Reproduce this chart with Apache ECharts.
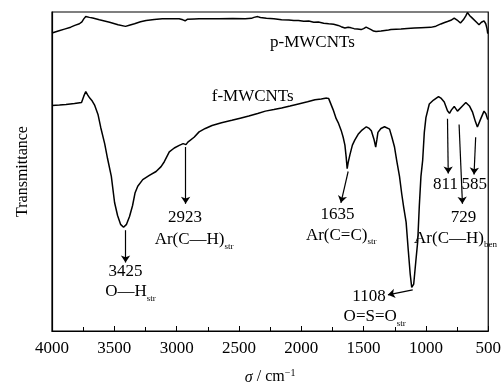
<!DOCTYPE html>
<html>
<head>
<meta charset="utf-8">
<script src="https://cdn.jsdelivr.net/npm/echarts@6/dist/echarts.min.js"></script>
<style>html,body{margin:0;padding:0;background:#fff;overflow:hidden}#c{width:100vw;height:100vh}</style>
</head>
<body>
<div id="c"></div>
<script>
// x tick labels (wavenumber, cm^-1)
var xTicks = [4000, 3500, 3000, 2500, 2000, 1500, 1000, 500];

// p-MWCNTs spectrum: wavenumber / transmittance (arb. units)
var pWn = [4000,3950,3900,3850,3817,3780,3760,3745,3729,3700,3673,3620,3538,3470,3410,3380,3338,3290,3245,3180,3115,3050,2980,2950,2932,2915,2900,2860,2820,2740,2661,2550,2450,2400,2380,2368,2350,2328,2280,2220,2158,2100,2060,2023,1980,1940,1900,1863,1820,1780,1740,1704,1680,1650,1635,1624,1600,1576,1550,1520,1500,1480,1465,1440,1420,1400,1385,1360,1330,1300,1281,1240,1200,1150,1092,1040,962,920,880,850,827,800,773,750,723,700,680,667,650,630,614,594,574,555,534,520,510,504];
var pT = [304.5,306.5,308.5,310.5,312.3,314,316,319,321.5,320.5,319.8,318,315.5,313,311.3,312.5,314,316,317.3,318.3,319,319.2,319,318,317,318.5,318.3,318.8,319,319.2,319,319.3,319,319.5,320.5,322,321.3,320.3,319.6,319,318,317.8,317.3,317.3,316.5,316.8,315.6,315.7,314.6,313.9,313.5,312.3,311,309.7,310.5,310.3,309.8,309,308.6,308,309,310.5,310.3,308,306.5,306,304.7,306.5,307.2,307.6,308,308.4,308.6,309.2,309.7,310,310.3,311.5,313.8,315.3,316.3,317.5,319.7,317.8,314.7,318,322,325.5,322.5,320,318,315.5,313,315.5,317,314,309,304];

// f-MWCNTs spectrum
var fWn = [4000,3940,3888,3820,3763,3745,3729,3713,3697,3677,3657,3631,3609,3577,3554,3524,3498,3474,3450,3426,3402,3378,3354,3334,3312,3272,3219,3165,3125,3099,3059,3019,2979,2948,2935,2925,2910,2900,2860,2820,2770,2716,2640,2557,2490,2421,2350,2288,2220,2158,2090,2023,1950,1890,1840,1797,1780,1765,1744,1720,1704,1680,1664,1650,1640,1632,1624,1610,1590,1571,1544,1518,1478,1455,1438,1417,1403,1393,1385,1361,1332,1292,1273,1252,1233,1212,1194,1178,1159,1142,1126,1114,1106,1098,1082,1066,1053,1040,1026,1013,1000,973,939,899,880,853,827,811,795,773,747,731,707,680,651,627,603,587,563,534,519,504];
var fT = [230.5,231,231.5,232.5,233.5,240,244.7,241,238,235,230.5,221.3,208,191.3,176,158,131.3,118,109,106,109,117,128,141,148,154.7,159,163,168,173,183,187,189.7,191.5,192,190.5,193,194.7,198,203.5,207,210,212.8,215.3,217.5,219.7,222.3,224.7,226.3,228,230,232,234.2,236.3,237.2,238,237.5,235.5,226,217,213,205,198,190,178,166,172,180,190,195,201,204.7,208.7,207,204.7,196,188,196,203,207,208.7,206.3,198,188,173,158,140,126,111.3,83,58,44.5,43.5,48,70,91.3,128,158,174.7,203,218,232,236,239.5,238,234,225,222.5,226,229.5,224.7,224,230,233.5,230,224,214,208.5,216,224.7,222,216];

// annotations
var seriesNames = ['p-MWCNTs', 'f-MWCNTs'];
var peakLabels = ['3425', '2923', '1635', '1108', '811', '729', '585'];

var FONT = '"Liberation Serif", "Times New Roman", serif';

function pairs(a, b) { return a.map(function (v, i) { return [v, b[i]]; }); }

var rich = {
  a: { fontSize: 17, lineHeight: 17, verticalAlign: 'top', fontFamily: FONT, color: '#000' },
  b: { fontSize: 9, lineHeight: 9, verticalAlign: 'top', padding: [11, 0, 0, 0], fontFamily: FONT, color: '#000' }
};

function txt(wn, v, formatter) {
  return {
    coord: [wn, v], symbol: 'circle', symbolSize: 0,
    label: { show: true, position: 'inside', formatter: formatter, fontFamily: FONT, fontSize: 17, color: '#000', rich: rich }
  };
}
function arrow(w1, v1, w2, v2) { return [{ coord: [w1, v1] }, { coord: [w2, v2] }]; }

var option = {
  animation: false,
  backgroundColor: '#fff',
  grid: { left: 52, top: 12, right: 13, bottom: 53, show: true, borderColor: '#000', borderWidth: 1.2 },
  xAxis: {
    type: 'value', min: 500, max: 4000, interval: 500, inverse: true,
    name: '{i|σ} / cm{s|−1}', nameLocation: 'middle', nameGap: 37,
    nameTextStyle: {
      fontFamily: FONT, fontSize: 16, color: '#000',
      rich: {
        i: { fontFamily: FONT, fontSize: 16, fontStyle: 'italic', color: '#000', verticalAlign: 'bottom', lineHeight: 18 },
        s: { fontFamily: FONT, fontSize: 10, color: '#000', verticalAlign: 'top', lineHeight: 10 }
      }
    },
    axisLine: { show: true, lineStyle: { color: '#000', width: 1.2 } },
    axisTick: { show: true, inside: true, length: 5, lineStyle: { color: '#000', width: 1 } },
    minorTick: { show: true, splitNumber: 2, length: 4, lineStyle: { color: '#000', width: 1 } },
    axisLabel: { margin: 9, fontFamily: FONT, fontSize: 17, color: '#000',
      formatter: function (v) { return xTicks.indexOf(v) >= 0 ? String(v) : ''; } },
    splitLine: { show: false }
  },
  yAxis: {
    type: 'value', min: 0, max: 326,
    name: 'Transmittance', nameLocation: 'middle', nameGap: 21,
    nameTextStyle: { fontFamily: FONT, fontSize: 16, color: '#000' },
    axisLine: { show: true, lineStyle: { color: '#000', width: 1.2 } },
    axisTick: { show: false }, axisLabel: { show: false }, splitLine: { show: false }
  },
  series: [
    {
      name: seriesNames[0], type: 'line', data: pairs(pWn, pT), showSymbol: false, symbol: 'none',
      lineStyle: { color: '#000', width: 1.5 }, z: 3,
      markPoint: { silent: true, data: [ txt(1911, 295, seriesNames[0]) ] }
    },
    {
      name: seriesNames[1], type: 'line', data: pairs(fWn, fT), showSymbol: false, symbol: 'none',
      lineStyle: { color: '#000', width: 1.5 }, z: 3,
      markPoint: {
        silent: true,
        data: [
          txt(2390, 240, seriesNames[1]),
          txt(3410, 61, peakLabels[0]),
          txt(3370, 40, '{a|O—H}{b|str}'),
          txt(2932, 116, peakLabels[1]),
          txt(2860, 93, '{a|Ar(C—H)}{b|str}'),
          txt(1709, 119, peakLabels[2]),
          txt(1680, 98, '{a|Ar(C=C)}{b|str}'),
          txt(1457, 35, peakLabels[3]),
          txt(1411, 15, '{a|O=S=O}{b|str}'),
          txt(843, 150, peakLabels[4]),
          txt(699, 116, peakLabels[5]),
          txt(612, 150, peakLabels[6]),
          txt(763, 95, '{a|Ar(C—H)}{b|ben}')
        ]
      },
      markLine: {
        silent: true, symbol: ['none', 'arrow'], symbolSize: 7,
        label: { show: false },
        lineStyle: { color: '#000', width: 1.2, type: 'solid' },
        data: [
          arrow(3410, 103, 3410, 70),
          arrow(2928, 188, 2928, 130),
          arrow(1624, 163, 1682, 131),
          arrow(1106, 42, 1305, 37),
          arrow(827, 217, 821, 161),
          arrow(734, 211, 707, 130),
          arrow(601, 198, 614, 160)
        ]
      }
    }
  ]
};

var chart = echarts.init(document.getElementById('c'), null, { renderer: 'canvas' });
chart.setOption(option);
</script>
</body>
</html>
